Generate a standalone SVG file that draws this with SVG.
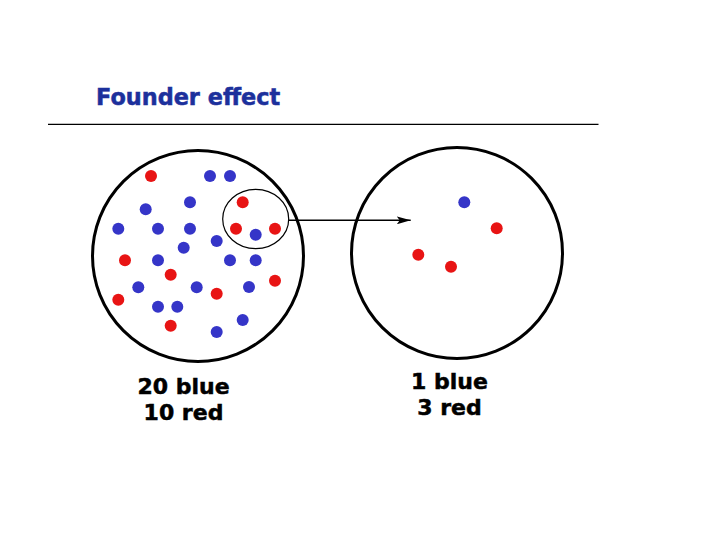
<svg xmlns="http://www.w3.org/2000/svg" width="720" height="540" viewBox="0 0 720 540">
<style>
.t{font-family:"DejaVu Sans",Verdana,sans-serif;font-weight:bold;font-size:22px;fill:#000;stroke:#000;stroke-width:0.5}
.b{fill:#3535c8}
.r{fill:#e81414}
.pop{fill:none;stroke:#000;stroke-width:3}
</style>
<defs>
<marker id="ah" viewBox="0 0 14 8" refX="14" refY="4" markerWidth="14" markerHeight="8" markerUnits="userSpaceOnUse" orient="auto">
<path d="M0,0 L14,4 L0,8 L3,4 Z" fill="#000"/>
</marker>
</defs>
<rect width="720" height="540" fill="#fff"/>
<g id="title">
<text x="96" y="105" class="t" style="fill:#1c309c;stroke:#1c309c;font-size:22.4px">Founder effect</text>
<line x1="48" y1="124.3" x2="598.5" y2="124.3" stroke="#000" stroke-width="1.3"/>
</g>
<g id="source-population">
<circle cx="198" cy="256" r="105.5" class="pop"/>
<g class="b">
<circle cx="210" cy="176" r="6"/><circle cx="230" cy="176" r="6"/>
<circle cx="145.7" cy="209.3" r="6"/><circle cx="190" cy="202.3" r="6"/>
<circle cx="118.3" cy="228.7" r="6"/><circle cx="158" cy="228.7" r="6"/>
<circle cx="190" cy="228.7" r="6"/><circle cx="255.7" cy="234.7" r="6"/>
<circle cx="183.7" cy="247.7" r="6"/><circle cx="216.7" cy="241" r="6"/>
<circle cx="158" cy="260.3" r="6"/><circle cx="230" cy="260.3" r="6"/>
<circle cx="255.7" cy="260.3" r="6"/><circle cx="138.3" cy="287.3" r="6"/>
<circle cx="196.7" cy="287.3" r="6"/><circle cx="249" cy="287" r="6"/>
<circle cx="158" cy="306.7" r="6"/><circle cx="177.3" cy="306.7" r="6"/>
<circle cx="242.7" cy="320" r="6"/><circle cx="216.7" cy="332" r="6"/>
</g>
<g class="r">
<circle cx="151" cy="176" r="6"/><circle cx="242.7" cy="202.3" r="6"/>
<circle cx="236" cy="228.7" r="6"/><circle cx="275" cy="228.7" r="6"/>
<circle cx="125" cy="260.3" r="6"/><circle cx="170.7" cy="274.7" r="6"/>
<circle cx="275" cy="280.7" r="6"/><circle cx="216.7" cy="293.7" r="6"/>
<circle cx="118.3" cy="299.7" r="6"/><circle cx="170.7" cy="325.7" r="6"/>
</g>
<ellipse cx="255.7" cy="219" rx="33" ry="29.7" fill="none" stroke="#000" stroke-width="1.2"/>
<text x="183.5" y="394.3" class="t" text-anchor="middle">20 blue</text>
<text x="183.5" y="420.3" class="t" text-anchor="middle">10 red</text>
</g>
<g id="founder-population">
<circle cx="457" cy="253" r="105.5" class="pop"/>
<circle cx="464.3" cy="202.3" r="6" class="b"/>
<circle cx="496.7" cy="228.3" r="6" class="r"/>
<circle cx="418.3" cy="254.7" r="6" class="r"/>
<circle cx="451" cy="266.7" r="6" class="r"/>
<text x="449.5" y="389" class="t" text-anchor="middle">1 blue</text>
<text x="449.5" y="415" class="t" text-anchor="middle">3 red</text>
</g>
<g id="connectors">
<line x1="288.7" y1="220.3" x2="410.7" y2="220.3" stroke="#000" stroke-width="1.5" marker-end="url(#ah)"/>
</g>
</svg>
